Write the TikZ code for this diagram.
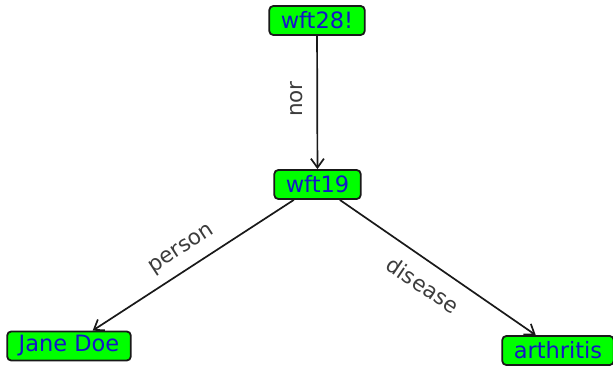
\documentclass[tikz,border=0pt]{standalone}
\usepackage{fontspec}
\usetikzlibrary{arrows.meta}
\newfontfamily\graphfont{DejaVu Sans}
\definecolor{nodegreen}{RGB}{0,255,0}
\definecolor{nodeblue}{RGB}{20,20,200}
\definecolor{edgegray}{RGB}{25,25,25}
\definecolor{labelgray}{RGB}{60,60,60}
\tikzset{
  concept/.style={draw=edgegray, line width=1.8pt, fill=nodegreen, rounded corners=4pt,
    text=nodeblue, inner xsep=11.5pt, inner ysep=0pt, minimum height=29pt,
    font=\graphfont\fontsize{22.5}{26}\selectfont},
  relation/.style={draw=edgegray, line width=1.7pt,
    -{Straight Barb[length=9pt,width=13pt,line width=1.7pt]}},
  rellabel/.style={text=labelgray, inner sep=0pt,
    font=\graphfont\fontsize{21.5}{25}\selectfont}
}
\begin{document}
\begin{tikzpicture}[x=1pt,y=-1pt]
  \useasboundingbox (0,0) rectangle (613,366);
  % concept nodes
  \node[concept] (wft28) at (317,20.5) {wft28!};
  \node[concept] (wft19) at (317.5,184.5) {wft19};
  \node[concept] (jane)  at (69,346)   {Jane Doe};
  \node[concept] (arth)  at (558,350.5) {arthritis};
  % relations
  \draw[relation] (wft28) -- (wft19);
  \draw[relation] (wft19) -- (jane);
  \draw[relation] (wft19) -- (arth);
  % relation labels
  \node[rellabel, rotate=90]  (lnor)     at (296.5,99) {nor};
  \node[rellabel, rotate=33]  (lperson)  at (182,250)  {person};
  \node[rellabel, rotate=-34] (ldisease) at (423,285)  {disease};
\end{tikzpicture}
\end{document}
